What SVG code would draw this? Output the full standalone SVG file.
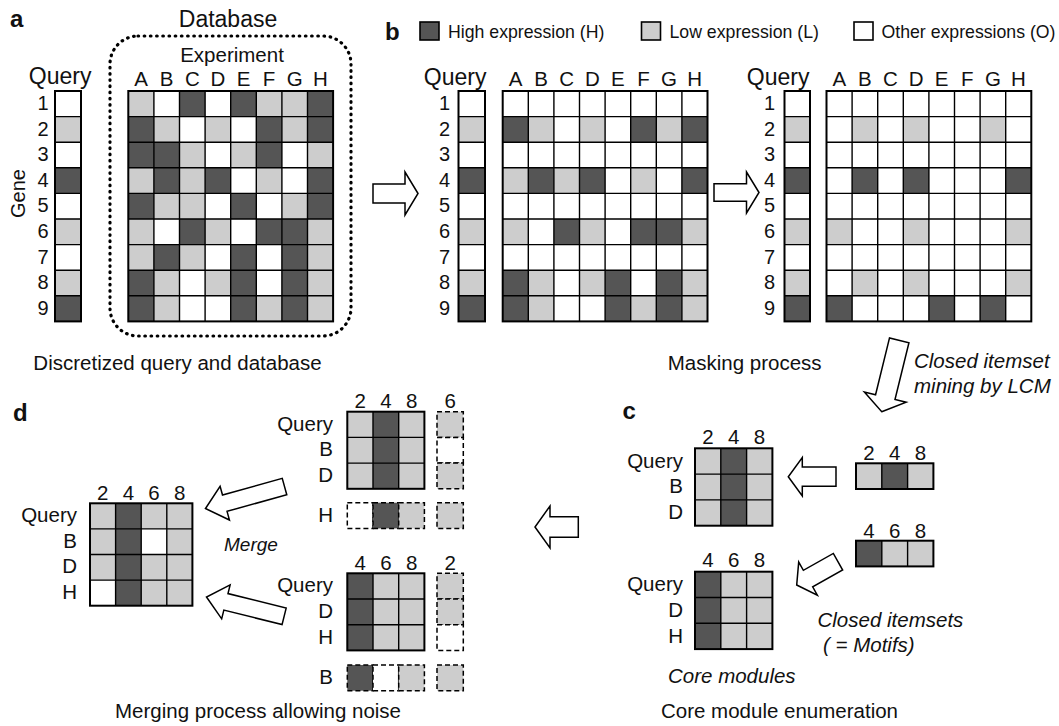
<svg xmlns="http://www.w3.org/2000/svg" width="1059" height="726" viewBox="0 0 1059 726">
<defs>
<style>
.t{font-family:"Liberation Sans",Arial,Helvetica,sans-serif;fill:#111;font-size:20.5px}
.q{font-size:23px}
.n{font-size:20px}
.lg{font-size:17.7px}
.i{font-style:italic}
.bd{font-weight:bold;font-size:24px}
.m{text-anchor:middle}
.e{text-anchor:end}
.H{fill:#555}
.L{fill:#cdcdcd}
.O{fill:#fff}
.bg{fill:#fff}
.grid{fill:none;stroke:#000;stroke-width:1.4}
.frame{fill:none;stroke:#000;stroke-width:2}
.c{stroke:#000;stroke-width:1.6}
.d{stroke:#000;stroke-width:1.5;stroke-dasharray:5 3}
.arr{fill:#fff;stroke:#000;stroke-width:1.5;stroke-linejoin:miter}
.dot{fill:none;stroke:#000;stroke-width:3.2;stroke-dasharray:0.6 5.6;stroke-linecap:round}
</style>
</defs>
<rect width="1059" height="726" fill="#fff"/>

<!-- Panel a -->
<g id="panel-a">
<text class="t bd" x="10" y="27">a</text>
<text class="t q m" x="228" y="27">Database</text>
<rect class="dot" x="110" y="36" width="241" height="300" rx="28"/>
<text class="t m" x="232" y="62">Experiment</text>
<text class="t q e" x="91.5" y="84">Query</text>
<g class="t m">
<text x="141.1" y="86">A</text><text x="166.7" y="86">B</text><text x="192.3" y="86">C</text><text x="217.9" y="86">D</text><text x="243.5" y="86">E</text><text x="269.1" y="86">F</text><text x="294.7" y="86">G</text><text x="320.3" y="86">H</text>
</g>
<g class="t n e">
<text x="48.5" y="110">1</text><text x="48.5" y="135.6">2</text><text x="48.5" y="161.2">3</text><text x="48.5" y="186.8">4</text><text x="48.5" y="212.4">5</text><text x="48.5" y="238">6</text><text x="48.5" y="263.6">7</text><text x="48.5" y="289.2">8</text><text x="48.5" y="314.8">9</text>
</g>
<text class="t n m" transform="translate(25,193.5) rotate(-90)">Gene</text>
<text class="t m" x="177.5" y="370">Discretized query and database</text>
</g>

<g id="query-a" transform="translate(55,91)">
<rect class="bg" width="26" height="230.4"/>
<rect class="L" y="25.6" width="26" height="25.6"/><rect class="H" y="76.8" width="26" height="25.6"/><rect class="L" y="128" width="26" height="25.6"/><rect class="L" y="179.2" width="26" height="25.6"/><rect class="H" y="204.8" width="26" height="25.6"/>
<path class="grid" d="M0 25.6H26M0 51.2H26M0 76.8H26M0 102.4H26M0 128H26M0 153.6H26M0 179.2H26M0 204.8H26"/>
<rect class="frame" width="26" height="230.4"/>
</g>

<g id="database-a" transform="translate(128.3,91)">
<rect class="bg" width="204.8" height="230.4"/>
<g transform="translate(0,0)"><rect class="L" x="0" width="25.6" height="25.6"/><rect class="H" x="51.2" width="25.6" height="25.6"/><rect class="H" x="102.4" width="25.6" height="25.6"/><rect class="L" x="128" width="25.6" height="25.6"/><rect class="L" x="153.6" width="25.6" height="25.6"/><rect class="H" x="179.2" width="25.6" height="25.6"/></g>
<g transform="translate(0,25.6)"><rect class="H" x="0" width="25.6" height="25.6"/><rect class="L" x="25.6" width="25.6" height="25.6"/><rect class="L" x="76.8" width="25.6" height="25.6"/><rect class="H" x="128" width="25.6" height="25.6"/><rect class="L" x="153.6" width="25.6" height="25.6"/><rect class="H" x="179.2" width="25.6" height="25.6"/></g>
<g transform="translate(0,51.2)"><rect class="H" x="0" width="25.6" height="25.6"/><rect class="H" x="25.6" width="25.6" height="25.6"/><rect class="L" x="51.2" width="25.6" height="25.6"/><rect class="L" x="102.4" width="25.6" height="25.6"/><rect class="H" x="128" width="25.6" height="25.6"/><rect class="L" x="179.2" width="25.6" height="25.6"/></g>
<g transform="translate(0,76.8)"><rect class="L" x="0" width="25.6" height="25.6"/><rect class="H" x="25.6" width="25.6" height="25.6"/><rect class="L" x="51.2" width="25.6" height="25.6"/><rect class="H" x="76.8" width="25.6" height="25.6"/><rect class="L" x="128" width="25.6" height="25.6"/><rect class="H" x="179.2" width="25.6" height="25.6"/></g>
<g transform="translate(0,102.4)"><rect class="H" x="0" width="25.6" height="25.6"/><rect class="L" x="25.6" width="25.6" height="25.6"/><rect class="L" x="51.2" width="25.6" height="25.6"/><rect class="H" x="102.4" width="25.6" height="25.6"/><rect class="L" x="153.6" width="25.6" height="25.6"/><rect class="H" x="179.2" width="25.6" height="25.6"/></g>
<g transform="translate(0,128)"><rect class="L" x="0" width="25.6" height="25.6"/><rect class="H" x="51.2" width="25.6" height="25.6"/><rect class="L" x="76.8" width="25.6" height="25.6"/><rect class="H" x="128" width="25.6" height="25.6"/><rect class="H" x="153.6" width="25.6" height="25.6"/><rect class="L" x="179.2" width="25.6" height="25.6"/></g>
<g transform="translate(0,153.6)"><rect class="L" x="0" width="25.6" height="25.6"/><rect class="H" x="25.6" width="25.6" height="25.6"/><rect class="L" x="51.2" width="25.6" height="25.6"/><rect class="H" x="102.4" width="25.6" height="25.6"/><rect class="H" x="153.6" width="25.6" height="25.6"/><rect class="L" x="179.2" width="25.6" height="25.6"/></g>
<g transform="translate(0,179.2)"><rect class="H" x="0" width="25.6" height="25.6"/><rect class="L" x="25.6" width="25.6" height="25.6"/><rect class="L" x="76.8" width="25.6" height="25.6"/><rect class="H" x="102.4" width="25.6" height="25.6"/><rect class="H" x="153.6" width="25.6" height="25.6"/><rect class="L" x="179.2" width="25.6" height="25.6"/></g>
<g transform="translate(0,204.8)"><rect class="H" x="0" width="25.6" height="25.6"/><rect class="L" x="25.6" width="25.6" height="25.6"/><rect class="H" x="102.4" width="25.6" height="25.6"/><rect class="L" x="128" width="25.6" height="25.6"/><rect class="H" x="153.6" width="25.6" height="25.6"/><rect class="L" x="179.2" width="25.6" height="25.6"/></g>
<path class="grid" d="M25.6 0V230.4M51.2 0V230.4M76.8 0V230.4M102.4 0V230.4M128 0V230.4M153.6 0V230.4M179.2 0V230.4M0 25.6H204.8M0 51.2H204.8M0 76.8H204.8M0 102.4H204.8M0 128H204.8M0 153.6H204.8M0 179.2H204.8M0 204.8H204.8"/>
<rect class="frame" width="204.8" height="230.4"/>
</g>

<!-- Panel b legend -->
<g id="legend">
<text class="t bd" x="385" y="40">b</text>
<rect class="H c" x="420" y="22" width="19" height="18"/>
<text class="t lg" x="448" y="37.5">High expression (H)</text>
<rect class="L c" x="641.5" y="22" width="19" height="18"/>
<text class="t lg" x="669.5" y="37.5">Low expression (L)</text>
<rect class="O c" x="854" y="22" width="19" height="18"/>
<text class="t lg" x="881.5" y="37.5">Other expressions (O)</text>
</g>

<!-- Panel b left -->
<g id="panel-b-left-labels">
<text class="t q e" x="486.5" y="85">Query</text>
<g class="t m">
<text x="515.5" y="86">A</text><text x="541.1" y="86">B</text><text x="566.7" y="86">C</text><text x="592.3" y="86">D</text><text x="617.9" y="86">E</text><text x="643.5" y="86">F</text><text x="669.1" y="86">G</text><text x="694.7" y="86">H</text>
</g>
<g class="t n e">
<text x="450" y="110">1</text><text x="450" y="135.6">2</text><text x="450" y="161.2">3</text><text x="450" y="186.8">4</text><text x="450" y="212.4">5</text><text x="450" y="238">6</text><text x="450" y="263.6">7</text><text x="450" y="289.2">8</text><text x="450" y="314.8">9</text>
</g>
<text class="t m" x="744.7" y="370">Masking process</text>
</g>

<g id="query-b-left" transform="translate(458.5,91)">
<rect class="bg" width="26.5" height="230.4"/>
<rect class="L" y="25.6" width="26.5" height="25.6"/><rect class="H" y="76.8" width="26.5" height="25.6"/><rect class="L" y="128" width="26.5" height="25.6"/><rect class="L" y="179.2" width="26.5" height="25.6"/><rect class="H" y="204.8" width="26.5" height="25.6"/>
<path class="grid" d="M0 25.6H26.5M0 51.2H26.5M0 76.8H26.5M0 102.4H26.5M0 128H26.5M0 153.6H26.5M0 179.2H26.5M0 204.8H26.5"/>
<rect class="frame" width="26.5" height="230.4"/>
</g>

<g id="masked-b-left" transform="translate(502.7,91)">
<rect class="bg" width="204.8" height="230.4"/>
<g transform="translate(0,25.6)"><rect class="H" x="0" width="25.6" height="25.6"/><rect class="L" x="25.6" width="25.6" height="25.6"/><rect class="L" x="76.8" width="25.6" height="25.6"/><rect class="H" x="128" width="25.6" height="25.6"/><rect class="L" x="153.6" width="25.6" height="25.6"/><rect class="H" x="179.2" width="25.6" height="25.6"/></g>
<g transform="translate(0,76.8)"><rect class="L" x="0" width="25.6" height="25.6"/><rect class="H" x="25.6" width="25.6" height="25.6"/><rect class="L" x="51.2" width="25.6" height="25.6"/><rect class="H" x="76.8" width="25.6" height="25.6"/><rect class="L" x="128" width="25.6" height="25.6"/><rect class="H" x="179.2" width="25.6" height="25.6"/></g>
<g transform="translate(0,128)"><rect class="L" x="0" width="25.6" height="25.6"/><rect class="H" x="51.2" width="25.6" height="25.6"/><rect class="L" x="76.8" width="25.6" height="25.6"/><rect class="H" x="128" width="25.6" height="25.6"/><rect class="H" x="153.6" width="25.6" height="25.6"/><rect class="L" x="179.2" width="25.6" height="25.6"/></g>
<g transform="translate(0,179.2)"><rect class="H" x="0" width="25.6" height="25.6"/><rect class="L" x="25.6" width="25.6" height="25.6"/><rect class="L" x="76.8" width="25.6" height="25.6"/><rect class="H" x="102.4" width="25.6" height="25.6"/><rect class="H" x="153.6" width="25.6" height="25.6"/><rect class="L" x="179.2" width="25.6" height="25.6"/></g>
<g transform="translate(0,204.8)"><rect class="H" x="0" width="25.6" height="25.6"/><rect class="L" x="25.6" width="25.6" height="25.6"/><rect class="H" x="102.4" width="25.6" height="25.6"/><rect class="L" x="128" width="25.6" height="25.6"/><rect class="H" x="153.6" width="25.6" height="25.6"/><rect class="L" x="179.2" width="25.6" height="25.6"/></g>
<path class="grid" d="M25.6 0V230.4M51.2 0V230.4M76.8 0V230.4M102.4 0V230.4M128 0V230.4M153.6 0V230.4M179.2 0V230.4M0 25.6H204.8M0 51.2H204.8M0 76.8H204.8M0 102.4H204.8M0 128H204.8M0 153.6H204.8M0 179.2H204.8M0 204.8H204.8"/>
<rect class="frame" width="204.8" height="230.4"/>
</g>

<!-- Panel b right -->
<g id="panel-b-right-labels">
<text class="t q e" x="809.5" y="85">Query</text>
<g class="t m">
<text x="839.3" y="86">A</text><text x="864.9" y="86">B</text><text x="890.5" y="86">C</text><text x="916.1" y="86">D</text><text x="941.7" y="86">E</text><text x="967.3" y="86">F</text><text x="992.9" y="86">G</text><text x="1018.5" y="86">H</text>
</g>
<g class="t n e">
<text x="775" y="110">1</text><text x="775" y="135.6">2</text><text x="775" y="161.2">3</text><text x="775" y="186.8">4</text><text x="775" y="212.4">5</text><text x="775" y="238">6</text><text x="775" y="263.6">7</text><text x="775" y="289.2">8</text><text x="775" y="314.8">9</text>
</g>
</g>

<g id="query-b-right" transform="translate(784.5,91)">
<rect class="bg" width="25.5" height="230.4"/>
<rect class="L" y="25.6" width="25.5" height="25.6"/><rect class="H" y="76.8" width="25.5" height="25.6"/><rect class="L" y="128" width="25.5" height="25.6"/><rect class="L" y="179.2" width="25.5" height="25.6"/><rect class="H" y="204.8" width="25.5" height="25.6"/>
<path class="grid" d="M0 25.6H25.5M0 51.2H25.5M0 76.8H25.5M0 102.4H25.5M0 128H25.5M0 153.6H25.5M0 179.2H25.5M0 204.8H25.5"/>
<rect class="frame" width="25.5" height="230.4"/>
</g>

<g id="masked-b-right" transform="translate(826.5,91)">
<rect class="bg" width="204.8" height="230.4"/>
<g transform="translate(0,25.6)"><rect class="L" x="25.6" width="25.6" height="25.6"/><rect class="L" x="76.8" width="25.6" height="25.6"/><rect class="L" x="153.6" width="25.6" height="25.6"/></g>
<g transform="translate(0,76.8)"><rect class="H" x="25.6" width="25.6" height="25.6"/><rect class="H" x="76.8" width="25.6" height="25.6"/><rect class="H" x="179.2" width="25.6" height="25.6"/></g>
<g transform="translate(0,128)"><rect class="L" x="0" width="25.6" height="25.6"/><rect class="L" x="76.8" width="25.6" height="25.6"/><rect class="L" x="179.2" width="25.6" height="25.6"/></g>
<g transform="translate(0,179.2)"><rect class="L" x="25.6" width="25.6" height="25.6"/><rect class="L" x="76.8" width="25.6" height="25.6"/><rect class="L" x="179.2" width="25.6" height="25.6"/></g>
<g transform="translate(0,204.8)"><rect class="H" x="0" width="25.6" height="25.6"/><rect class="H" x="102.4" width="25.6" height="25.6"/><rect class="H" x="153.6" width="25.6" height="25.6"/></g>
<path class="grid" d="M25.6 0V230.4M51.2 0V230.4M76.8 0V230.4M102.4 0V230.4M128 0V230.4M153.6 0V230.4M179.2 0V230.4M0 25.6H204.8M0 51.2H204.8M0 76.8H204.8M0 102.4H204.8M0 128H204.8M0 153.6H204.8M0 179.2H204.8M0 204.8H204.8"/>
<rect class="frame" width="204.8" height="230.4"/>
</g>

<!-- Panel c -->
<g id="panel-c-labels">
<text class="t i" x="914" y="368">Closed itemset</text>
<text class="t i" x="914" y="393">mining by LCM</text>
<text class="t bd" x="622.5" y="419">c</text>
<text class="t i" x="817.5" y="627">Closed itemsets</text>
<text class="t i" x="823" y="652">( = Motifs)</text>
<text class="t i" x="668" y="683">Core modules</text>
<text class="t m" x="779.5" y="718">Core module enumeration</text>
</g>

<g id="core-module-1">
<g class="t m"><text x="707.9" y="444">2</text><text x="733.7" y="444">4</text><text x="759.5" y="444">8</text></g>
<g class="t e"><text x="683" y="467.5">Query</text><text x="683" y="493.3">B</text><text x="683" y="519.1">D</text></g>
<g transform="translate(695,448.3)">
<rect class="L" x="0" width="25.8" height="77.4"/><rect class="H" x="25.8" width="25.8" height="77.4"/><rect class="L" x="51.6" width="25.8" height="77.4"/>
<path class="grid" d="M25.8 0V77.4M51.6 0V77.4M0 25.8H77.4M0 51.6H77.4"/>
<rect class="frame" width="77.4" height="77.4"/>
</g>
</g>

<g id="core-module-2">
<g class="t m"><text x="707.9" y="567">4</text><text x="733.7" y="567">6</text><text x="759.5" y="567">8</text></g>
<g class="t e"><text x="683" y="590.9">Query</text><text x="683" y="616.7">D</text><text x="683" y="642.5">H</text></g>
<g transform="translate(695,571.7)">
<rect class="H" x="0" width="25.8" height="77.4"/><rect class="L" x="25.8" width="25.8" height="77.4"/><rect class="L" x="51.6" width="25.8" height="77.4"/>
<path class="grid" d="M25.8 0V77.4M51.6 0V77.4M0 25.8H77.4M0 51.6H77.4"/>
<rect class="frame" width="77.4" height="77.4"/>
</g>
</g>

<g id="motif-1">
<g class="t m"><text x="868.9" y="460">2</text><text x="894.7" y="460">4</text><text x="920.5" y="460">8</text></g>
<g transform="translate(856,463.3)">
<rect class="L" x="0" width="25.8" height="25.7"/><rect class="H" x="25.8" width="25.8" height="25.7"/><rect class="L" x="51.6" width="25.8" height="25.7"/>
<path class="grid" d="M25.8 0V25.7M51.6 0V25.7"/>
<rect class="frame" width="77.4" height="25.7"/>
</g>
</g>

<g id="motif-2">
<g class="t m"><text x="868.9" y="538">4</text><text x="894.7" y="538">6</text><text x="920.5" y="538">8</text></g>
<g transform="translate(856,540.7)">
<rect class="H" x="0" width="25.8" height="25.7"/><rect class="L" x="25.8" width="25.8" height="25.7"/><rect class="L" x="51.6" width="25.8" height="25.7"/>
<path class="grid" d="M25.8 0V25.7M51.6 0V25.7"/>
<rect class="frame" width="77.4" height="25.7"/>
</g>
</g>

<!-- Panel d -->
<g id="panel-d-labels">
<text class="t bd" x="13" y="421">d</text>
<text class="t i" x="224" y="551" style="font-size:19px">Merge</text>
<text class="t m" x="258" y="718">Merging process allowing noise</text>
</g>

<g id="merged-module">
<g class="t m"><text x="102.8" y="500">2</text><text x="128.4" y="500">4</text><text x="154" y="500">6</text><text x="179.6" y="500">8</text></g>
<g class="t e"><text x="77" y="522">Query</text><text x="77" y="547.6">B</text><text x="77" y="573.2">D</text><text x="77" y="598.8">H</text></g>
<g transform="translate(90,503.3)">
<rect class="L" x="0" width="25.6" height="102.4"/><rect class="H" x="25.6" width="25.6" height="102.4"/><rect class="L" x="51.2" width="25.6" height="102.4"/><rect class="L" x="76.8" width="25.6" height="102.4"/>
<rect class="O" x="51.2" y="25.6" width="25.6" height="25.6"/><rect class="O" x="0" y="76.8" width="25.6" height="25.6"/>
<path class="grid" d="M25.6 0V102.4M51.2 0V102.4M76.8 0V102.4M0 25.6H102.4M0 51.2H102.4M0 76.8H102.4"/>
<rect class="frame" width="102.4" height="102.4"/>
</g>
</g>

<g id="noise-module-1">
<g class="t m"><text x="360.2" y="408">2</text><text x="385.9" y="408">4</text><text x="411.6" y="408">8</text><text x="450.2" y="408">6</text></g>
<g class="t e"><text x="333" y="430.5">Query</text><text x="333" y="456.2">B</text><text x="333" y="481.9">D</text><text x="333" y="521.5">H</text></g>
<g transform="translate(347.3,411.7)">
<rect class="L" x="0" width="25.7" height="77.1"/><rect class="H" x="25.7" width="25.7" height="77.1"/><rect class="L" x="51.4" width="25.7" height="77.1"/>
<path class="grid" d="M25.7 0V77.1M51.4 0V77.1M0 25.7H77.1M0 51.4H77.1"/>
<rect class="frame" width="77.1" height="77.1"/>
</g>
<rect class="L d" x="437" y="411.7" width="26.3" height="25.7"/>
<rect class="O d" x="437" y="437.4" width="26.3" height="25.7"/>
<rect class="L d" x="437" y="463.1" width="26.3" height="25.7"/>
<rect class="O d" x="347.3" y="502.7" width="25.7" height="25.7"/>
<rect class="H d" x="373" y="502.7" width="25.7" height="25.7"/>
<rect class="L d" x="398.7" y="502.7" width="25.7" height="25.7"/>
<rect class="L d" x="437" y="502.7" width="26.3" height="25.7"/>
</g>

<g id="noise-module-2">
<g class="t m"><text x="360.2" y="570">4</text><text x="385.9" y="570">6</text><text x="411.6" y="570">8</text><text x="450.2" y="570">2</text></g>
<g class="t e"><text x="333" y="592.2">Query</text><text x="333" y="617.9">D</text><text x="333" y="643.6">H</text><text x="333" y="683.9">B</text></g>
<g transform="translate(347.3,573.3)">
<rect class="H" x="0" width="25.7" height="77.1"/><rect class="L" x="25.7" width="25.7" height="77.1"/><rect class="L" x="51.4" width="25.7" height="77.1"/>
<path class="grid" d="M25.7 0V77.1M51.4 0V77.1M0 25.7H77.1M0 51.4H77.1"/>
<rect class="frame" width="77.1" height="77.1"/>
</g>
<rect class="L d" x="437" y="573.3" width="26.3" height="25.7"/>
<rect class="L d" x="437" y="599" width="26.3" height="25.7"/>
<rect class="O d" x="437" y="624.7" width="26.3" height="25.7"/>
<rect class="H d" x="347.3" y="665" width="25.7" height="25.7"/>
<rect class="O d" x="373" y="665" width="25.7" height="25.7"/>
<rect class="L d" x="398.7" y="665" width="25.7" height="25.7"/>
<rect class="L d" x="437" y="665" width="26.3" height="25.7"/>
</g>

<!-- Connectors -->
<g id="connectors">
<polygon class="arr" transform="translate(418,193.5)" points="0,0 -13,-21.5 -13,-9.5 -45,-9.5 -45,9.5 -13,9.5 -13,21.5"/>
<polygon class="arr" transform="translate(759,192.5)" points="0,0 -12.5,-20.5 -12.5,-8.75 -45,-8.75 -45,8.75 -12.5,8.75 -12.5,20.5"/>
<polygon class="arr" transform="translate(881.7,411.7) rotate(103.8)" points="0,0 -15,-21.5 -15,-10 -73.5,-10 -73.5,10 -15,10 -15,21.5"/>
<polygon class="arr" transform="translate(788.3,476.7) rotate(180)" points="0,0 -14,-19.2 -14,-9.6 -47.7,-9.6 -47.7,9.6 -14,9.6 -14,19.2"/>
<polygon class="arr" transform="translate(796.7,585) rotate(150.6)" points="0,0 -13,-19 -13,-9.5 -47.4,-9.5 -47.4,9.5 -13,9.5 -13,19"/>
<polygon class="arr" transform="translate(535,527) rotate(180)" points="0,0 -15,-21 -15,-10.3 -43.3,-10.3 -43.3,10.3 -15,10.3 -15,21"/>
<polygon class="arr" transform="translate(205.5,508.5) rotate(164.5)" points="0,0 -20,-17.5 -20,-8.5 -82,-8.5 -82,8.5 -20,8.5 -20,17.5"/>
<polygon class="arr" transform="translate(206.5,597) rotate(194)" points="0,0 -20,-17.5 -20,-8.5 -80,-8.5 -80,8.5 -20,8.5 -20,17.5"/>
</g>
</svg>
